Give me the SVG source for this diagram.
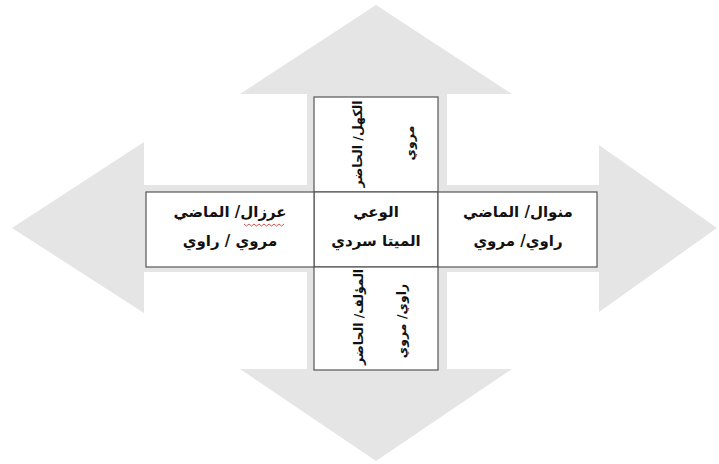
<svg xmlns="http://www.w3.org/2000/svg" width="719" height="464" viewBox="0 0 719 464">
<style>
.bg{fill:#ffffff}
.arrow{fill:#e5e5e5}
.box{fill:#ffffff;stroke:#555555;stroke-width:1.2}
.t{font-family:"DejaVu Sans",sans-serif;font-weight:bold;font-size:15px;fill:#111111;text-anchor:middle}
.v{font-size:12.5px}
.squig{fill:none;stroke:#d04040;stroke-width:0.9}
</style>
<rect class="bg" x="0" y="0" width="719" height="464"/>
<g id="connectors">
<polygon class="arrow" points="376,5 512,94 447,94 447,185 599,185 599,145 717,228 599,312 599,272 447,272 447,369 512,369 376,461 240,369 307,369 307,272 144,272 144,313 12,228 144,142 144,185 307,185 307,94 240,94"/>
</g>
<g id="node-top">
<rect class="box" x="314" y="97" width="124" height="95"/>
<text class="t v" transform="translate(362,144) rotate(-90)">الكهل/ الحاضر</text>
<text class="t v" transform="translate(414,143) rotate(-90)">مروي</text>
</g>
<g id="node-center">
<rect class="box" x="314" y="192" width="124" height="75"/>
<text class="t" x="376" y="217">الوعي</text>
<text class="t" x="376" y="246">الميتا سردي</text>
</g>
<g id="node-left">
<rect class="box" x="146" y="192" width="168" height="75"/>
<text class="t" x="230" y="217">عرزال/ الماضي</text>
<text class="t" x="230" y="246">مروي / راوي</text>
<path class="squig" d="M244,224 l2.5,2 l2.5,-2 l2.5,2 l2.5,-2 l2.5,2 l2.5,-2 l2.5,2 l2.5,-2 l2.5,2 l2.5,-2 l2.5,2 l2.5,-2 l2.5,2 l2.5,-2 l2.5,2 l2.5,-2"/>
</g>
<g id="node-right">
<rect class="box" x="438" y="192" width="159" height="75"/>
<text class="t" x="518" y="217">منوال/ الماضي</text>
<text class="t" x="518" y="246">راوي/ مروي</text>
</g>
<g id="node-bottom">
<rect class="box" x="314" y="267" width="124" height="103"/>
<text class="t v" transform="translate(363,317) rotate(-90)">المؤلف/ الحاضر</text>
<text class="t v" transform="translate(406,321) rotate(-90)">راوي/ مروي</text>
</g>
</svg>
